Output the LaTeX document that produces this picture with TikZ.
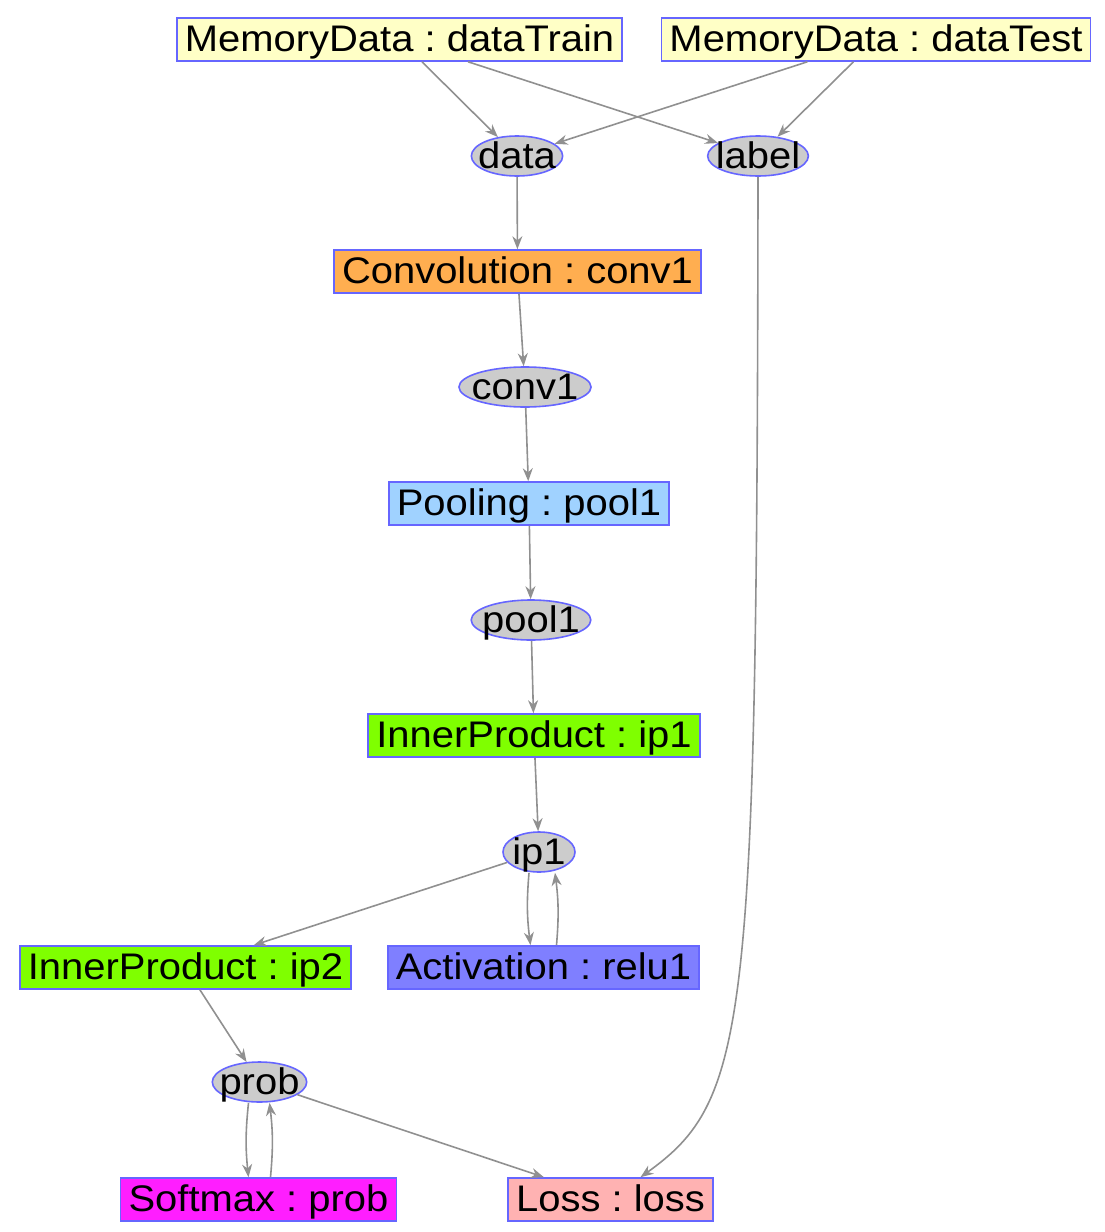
\documentclass[tikz,border=0pt]{standalone}
\usepackage{fontspec}
\setmainfont{Liberation Sans}[FakeStretch=1.08]
\usepackage{tikz}
\usetikzlibrary{shapes}
\usetikzlibrary{arrows.meta}
\frenchspacing
\definecolor{edgegray}{HTML}{909090}
\definecolor{rimblue}{HTML}{6666FF}
\tikzset{
	netnode/.style = {
		align=center,
		text centered,
		font=\fontsize{18.5}{22}\selectfont,
		text height=14.5pt,
		text depth=2.5pt,
		draw=rimblue,
		line width=0.8pt
	},
	layer_box/.style = {
		netnode,
		rectangle,
		inner xsep=4pt,
		inner ysep=2.25pt
	},
	layer_data/.style = {
		layer_box,
		fill={rgb,255:red,255;green,255;blue,198}
	},
	layer_conv/.style = {
		layer_box,
		fill={rgb,255:red,255;green,174;blue,80}
	},
	layer_pool/.style = {
		layer_box,
		fill={rgb,255:red,160;green,210;blue,255}
	},
	layer_ip/.style = {
		layer_box,
		fill={rgb,255:red,127;green,255;blue,0}
	},
	layer_act/.style = {
		layer_box,
		fill={rgb,255:red,127;green,127;blue,255}
	},
	layer_soft/.style = {
		layer_box,
		fill={rgb,255:red,255;green,30;blue,255}
	},
	layer_loss/.style = {
		layer_box,
		fill={rgb,255:red,255;green,178;blue,178}
	},
	blob/.style = {
		netnode,
		ellipse,
		inner xsep=-3.3pt,
		inner ysep=-2pt,
		minimum width=36pt,
		minimum height=20pt,
		fill={rgb,255:red,204;green,204;blue,204}
	},
	wire/.style = {
		->,
		draw=edgegray,
		line width=0.8pt
	},
}

\begin{document}
\begin{tikzpicture}[x=0.5pt,y=-0.5pt,>={Stealth[length=6.5pt,width=5pt]}]
\useasboundingbox (0,0) rectangle (1104,1232);
% layers and blobs
\node [layer_data] (train) at (399.5,39.5) {MemoryData : dataTrain};
\node [layer_data] (test) at (876,39.5) {MemoryData : dataTest};
\node [blob] (data) at (517,156) {data};
\node [blob] (label) at (758,156) {label};
\node [layer_conv] (conv1l) at (517.5,271.5) {Convolution : conv1};
\node [blob] (conv1) at (525,387) {conv1};
\node [layer_pool] (pool1l) at (529,503.5) {Pooling : pool1};
\node [blob] (pool1) at (531,620) {pool1};
\node [layer_ip] (ip1l) at (534,735.5) {InnerProduct : ip1};
\node [blob] (ip1) at (539,852) {ip1};
\node [layer_ip] (ip2l) at (185.5,967.5) {InnerProduct : ip2};
\node [layer_act] (relu1l) at (543.5,967.5) {Activation : relu1};
\node [blob] (prob) at (259.5,1082) {prob};
\node [layer_soft] (probl) at (258.5,1199.5) {Softmax : prob};
\node [layer_loss] (lossl) at (610.5,1199.5) {Loss : loss};
% edges
\draw [wire] (train) -- (data);
\draw [wire] (train) -- (label);
\draw [wire] (test) -- (data);
\draw [wire] (test) -- (label);
\draw [wire] (data) -- (conv1l);
\draw [wire] (conv1l) -- (conv1);
\draw [wire] (conv1) -- (pool1l);
\draw [wire] (pool1l) -- (pool1);
\draw [wire] (pool1) -- (ip1l);
\draw [wire] (ip1l) -- (ip1);
\draw [wire] (ip1) -- (ip2l);
\draw [wire] ([xshift=-5pt]ip1.south) to[bend right=6] ([xshift=-6.5pt]relu1l.north);
\draw [wire] ([xshift=6.5pt]relu1l.north) to[bend right=6] ([xshift=8pt]ip1.south);
\draw [wire] (ip2l) -- (prob);
\draw [wire] ([xshift=-5.5pt]prob.south) to[bend right=6] ([xshift=-5pt]probl.north);
\draw [wire] ([xshift=6pt]probl.north) to[bend right=6] ([xshift=5pt]prob.south);
\draw [wire] (prob) -- (lossl);
\draw [wire] (label.south) .. controls (757,1030) and (748,1100) .. ([xshift=15pt]lossl.north);
\end{tikzpicture}
\end{document}
